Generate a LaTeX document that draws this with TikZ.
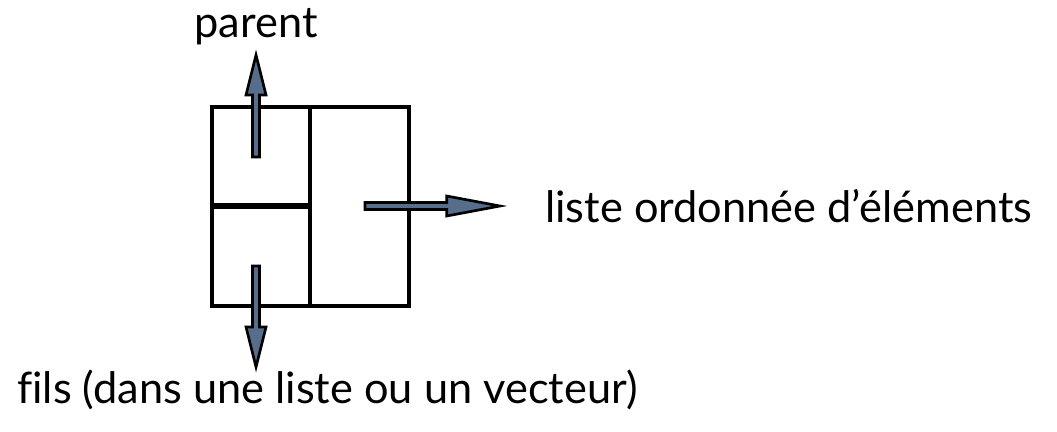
\documentclass[tikz,border=0pt]{standalone}
\usepackage{fontspec}
\setmainfont{Lato}[Ligatures=CommonOff]
\usepackage{tikz}
\usetikzlibrary{calc}
\definecolor{arrowblue}{RGB}{86,110,140}
\tikzset{
    box/.style={line width=3pt},
    fatbody/.style={draw=black, fill=arrowblue, line width=2pt, line join=miter},
    lbl/.style={inner sep=0pt, font=\fontsize{32.5}{38}\selectfont}
}
% thick outlined arrow: start, tip, head length
\newcommand{\fatarrow}[3]{%
\coordinate (hb) at ($(#2)!#3!(#1)$);
\draw[fatbody] ($(#1)!2.6pt!90:(#2)$) -- ($(hb)!2.6pt!90:(#2)$) -- ($(hb)!7.5pt!90:(#2)$) -- (#2)
    -- ($(hb)!7.5pt!-90:(#2)$) -- ($(hb)!2.6pt!-90:(#2)$) -- ($(#1)!2.6pt!-90:(#2)$) -- cycle;
}

\begin{document}
\begin{tikzpicture}[x=0.75pt,y=-0.75pt]
\useasboundingbox (0,0) rectangle (1057,432);
% the block: two cells on the left, one on the right
\coordinate (nw) at (212,107);
\coordinate (se) at (409,306);
\coordinate (midtop) at (310,107);
\coordinate (midbot) at (310,306);
\coordinate (wl) at (212,206);
\coordinate (wr) at (310,206);
\draw[box] (nw) rectangle (se);
\draw[box] (midtop) -- (midbot);
\draw[line width=3.8pt] (wl) -- (wr);

\foreach \p/\x/\y in {upfrom/256/157, uptip/256/55, downfrom/256/266, downtip/256/367, rfrom/365/206, rtip/500/206}{
\coordinate (\p) at (\x,\y);
}
\fatarrow{upfrom}{uptip}{30pt}
\fatarrow{downfrom}{downtip}{30pt}
\fatarrow{rfrom}{rtip}{40pt}

\node[lbl, anchor=base] (parent) at (256,37) {parent};
\node[lbl, anchor=base west] (liste) at (545,222) {liste ordonnée d’éléments};
\node[lbl, anchor=base west] (fils) at (17,403) {fils (dans une liste ou un vecteur)};
\end{tikzpicture}
\end{document}
